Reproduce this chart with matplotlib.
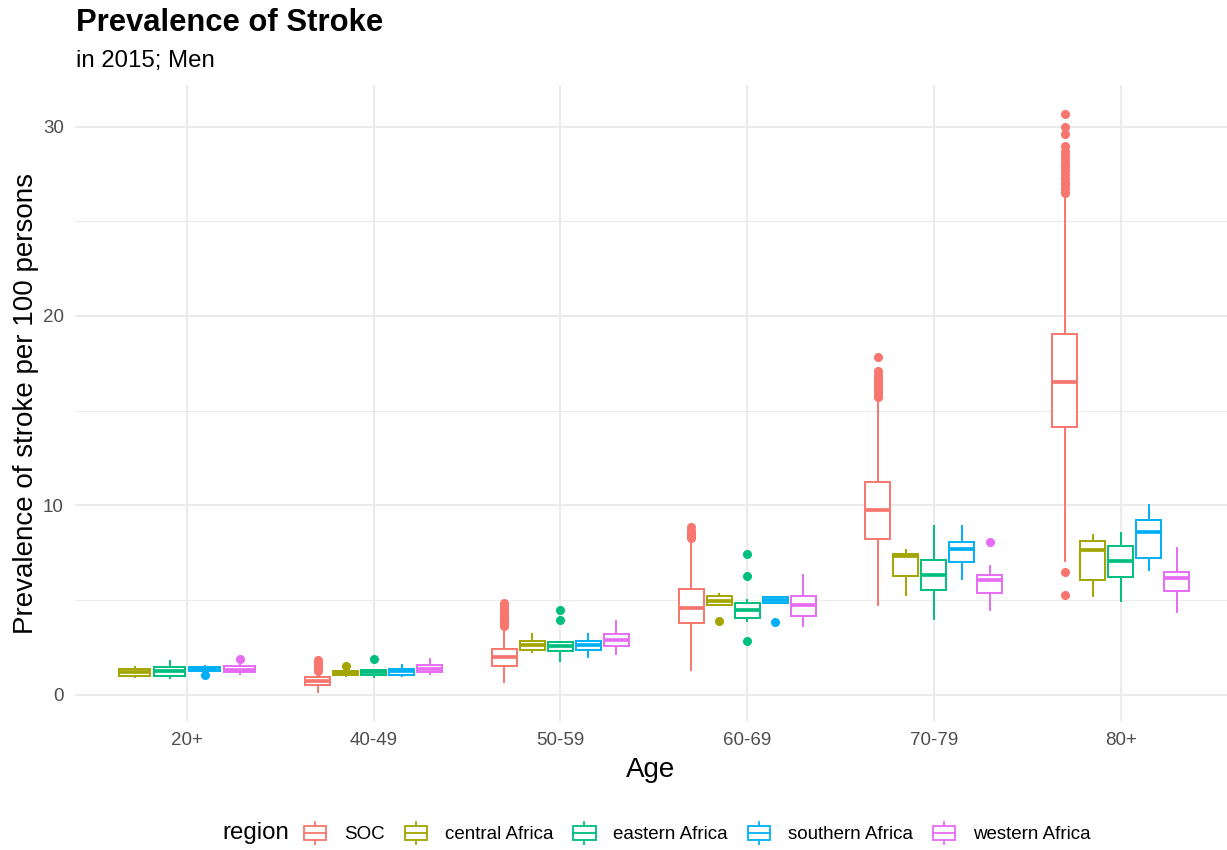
import numpy as np
import matplotlib
matplotlib.use("Agg")
import matplotlib.pyplot as plt
from matplotlib.legend_handler import HandlerBase
from matplotlib.patches import Rectangle, Patch
from matplotlib.lines import Line2D

plt.rcParams['font.family'] = ['Liberation Sans', 'DejaVu Sans']

ages = ['20+', '40-49', '50-59', '60-69', '70-79', '80+']
regions = ['SOC', 'central Africa', 'eastern Africa', 'southern Africa', 'western Africa']
colors = ['#F8766D', '#A3A500', '#00BF7D', '#00B0F6', '#E76BF3']

# (lower whisker, q1, median, q3, upper whisker) per age group; None = no data
soc_stats = [None,
             (0.14, 0.49, 0.74, 0.92, 1.20),
             (0.67, 1.50, 1.97, 2.41, 3.60),
             (1.32, 3.79, 4.58, 5.58, 8.20),
             (4.72, 8.24, 9.74, 11.24, 15.60),
             (7.04, 14.12, 16.53, 19.07, 26.50)]
soc_fliers = [[],
              [1.25, 1.35, 1.45, 1.55, 1.65, 1.75, 1.85],
              [3.65, 3.75, 3.85, 3.95, 4.05, 4.15, 4.25, 4.40, 4.55, 4.70, 4.84],
              [8.25, 8.35, 8.45, 8.55, 8.65, 8.85],
              [15.70, 15.80, 15.95, 16.10, 16.25, 16.40, 16.55, 16.70, 16.90, 17.10, 17.82],
              [5.25, 6.46, 26.50, 26.70, 26.90, 27.10, 27.30, 27.50, 27.70, 27.90,
               28.10, 28.30, 28.50, 28.70, 29.00, 29.60, 30.00, 30.67]]

central_stats = [(0.91, 1.00, 1.18, 1.37, 1.44),
                 (1.00, 1.02, 1.15, 1.27, 1.30),
                 (2.25, 2.38, 2.60, 2.85, 3.20),
                 (4.72, 4.72, 4.93, 5.19, 5.32),
                 (5.28, 6.25, 7.31, 7.43, 7.66),
                 (5.19, 6.04, 7.66, 8.14, 8.42)]
central_fliers = [[], [1.50], [], [3.91], [], []]

eastern_stats = [(0.88, 1.00, 1.23, 1.44, 1.80),
                 (0.93, 1.06, 1.20, 1.32, 1.32),
                 (1.76, 2.32, 2.55, 2.78, 2.80),
                 (3.87, 4.05, 4.45, 4.84, 5.02),
                 (4.00, 5.55, 6.32, 7.13, 8.89),
                 (4.93, 6.21, 7.04, 7.84, 8.54)]
eastern_fliers = [[], [1.88], [3.96, 4.49], [2.85, 6.29, 7.45], [], []]

southern_stats = [(1.18, 1.27, 1.36, 1.44, 1.53),
                  (0.97, 1.06, 1.23, 1.36, 1.58),
                  (1.99, 2.38, 2.64, 2.85, 3.20),
                  (4.84, 4.84, 5.02, 5.16, 5.16),
                  (6.11, 6.99, 7.70, 8.05, 8.93),
                  (6.60, 7.22, 8.59, 9.21, 10.04)]
southern_fliers = [[1.02], [], [], [3.84], [], []]

western_stats = [(1.09, 1.20, 1.32, 1.50, 1.55),
                 (1.09, 1.20, 1.38, 1.55, 1.90),
                 (2.17, 2.55, 2.90, 3.22, 3.87),
                 (3.61, 4.14, 4.75, 5.23, 6.30),
                 (4.49, 5.37, 6.04, 6.34, 6.78),
                 (4.35, 5.46, 6.14, 6.48, 7.75)]
western_fliers = [[1.90], [], [], [], [8.05], []]

all_stats = [soc_stats, central_stats, eastern_stats, southern_stats, western_stats]
all_fliers = [soc_fliers, central_fliers, eastern_fliers, southern_fliers, western_fliers]

fig = plt.figure(figsize=(12.27, 8.5), dpi=100)
ax = fig.add_axes([75 / 1227, 1 - 721 / 850, 1 - 75 / 1227, (721 - 85) / 850])

lw = 1.4
for j, age in enumerate(ages):
    present = [i for i in range(len(regions)) if all_stats[i][j] is not None]
    n = len(present)
    slot = 0.75 / n
    for k, i in enumerate(present):
        lo, q1, med, q3, hi = all_stats[i][j]
        pos = (j + 1) + (k - (n - 1) / 2) * slot
        st = [dict(whislo=lo, q1=q1, med=med, q3=q3, whishi=hi, fliers=all_fliers[i][j])]
        c = colors[i]
        ax.bxp(st, positions=[pos], widths=slot * 0.9, showcaps=False, patch_artist=True,
               boxprops=dict(facecolor='white', edgecolor=c, linewidth=lw),
               medianprops=dict(color=c, linewidth=lw * 1.9, solid_capstyle='butt'),
               whiskerprops=dict(color=c, linewidth=lw),
               flierprops=dict(marker='o', markerfacecolor=c, markeredgecolor=c,
                               markersize=5.5, linestyle='none'),
               manage_ticks=False, zorder=3)

ax.set_xlim(0.4, 6.57)
ax.set_ylim(-1.39, 32.2)
ax.set_xticks(range(1, len(ages) + 1))
ax.set_xticklabels(ages)
ax.set_yticks([0, 10, 20, 30])
ax.set_yticks([5, 15, 25], minor=True)
ax.grid(True, which='major', color='#EBEBEB', linewidth=1.5, zorder=0)
ax.grid(True, which='minor', axis='y', color='#EBEBEB', linewidth=0.8, zorder=0)
ax.set_axisbelow(True)
for s in ax.spines.values():
    s.set_visible(False)
ax.tick_params(which='both', length=0, labelsize=13.5, colors='#4D4D4D', pad=8)
ax.set_xlabel('Age', fontsize=20, labelpad=6)
ax.set_ylabel('Prevalence of stroke per 100 persons', fontsize=20, labelpad=3)

fig.text(76 / 1227, 1 - 23 / 850, 'Prevalence of Stroke', fontsize=22.3, fontweight='bold', va='center')
fig.text(76 / 1227, 1 - 61 / 850, 'in 2015; Men', fontsize=17.3, va='center')


class BoxHandler(HandlerBase):
    def create_artists(self, legend, orig_handle, xdescent, ydescent, width, height, fontsize, trans):
        c = orig_handle.get_edgecolor()
        cx = width / 2 - xdescent
        bw = width * 0.92
        bh = height * 0.9
        y0 = -ydescent + (height - bh) / 2
        box = Rectangle((cx - bw / 2, y0), bw, bh, facecolor='white', edgecolor=c, linewidth=1.3, transform=trans)
        med = Line2D([cx - bw / 2, cx + bw / 2], [y0 + bh / 2] * 2, color=c, linewidth=1.3, transform=trans)
        w1 = Line2D([cx, cx], [y0 + bh, y0 + bh + height * 0.25], color=c, linewidth=1.3, transform=trans)
        w2 = Line2D([cx, cx], [y0, y0 - height * 0.25], color=c, linewidth=1.3, transform=trans)
        return [box, med, w1, w2]


handles = [Patch(facecolor='white', edgecolor=c) for c in colors]
fig.text(222 / 1227, 1 - 833 / 850, 'region', fontsize=17.3, va='center')
leg = fig.legend(handles, regions, loc='center left', bbox_to_anchor=(303 / 1227, 1 - 834 / 850),
                 ncol=5, frameon=False, fontsize=13.5, handlelength=1.3, handleheight=0.95,
                 handletextpad=0.9, columnspacing=1.0, borderpad=0, borderaxespad=0,
                 handler_map={Patch: BoxHandler()})

fig.savefig('out.png', dpi=100)
